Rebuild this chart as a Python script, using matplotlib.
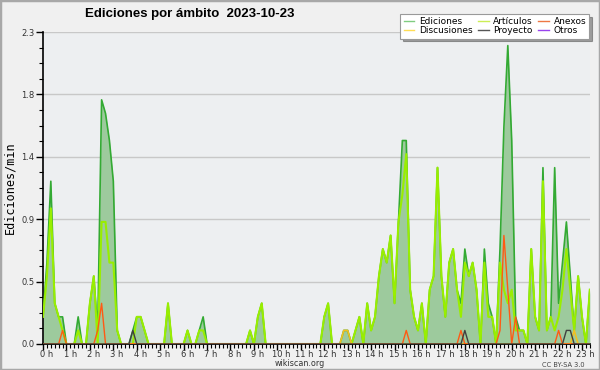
import matplotlib
matplotlib.use("Agg")
import matplotlib.pyplot as plt
import matplotlib.transforms as mtransforms
from matplotlib.lines import Line2D
from matplotlib.patches import Rectangle
from matplotlib.ticker import MultipleLocator, FixedLocator, FormatStrFormatter
import numpy as np

# edits per minute, one value per 10 minute slot starting at 0:00
ediciones = [
    0.2, 0.6, 1.2, 0.3, 0.2, 0.2, 0.0, 0.0, 0.0, 0.2, 0.0, 0.0,   # 0 h, 1 h
    0.3, 0.5, 0.1, 1.8, 1.7, 1.5, 1.2, 0.1, 0.0, 0.0, 0.0, 0.1,   # 2 h, 3 h
    0.2, 0.2, 0.1, 0.0, 0.0, 0.0, 0.0, 0.0, 0.3, 0.0, 0.0, 0.0,   # 4 h, 5 h
    0.0, 0.1, 0.0, 0.0, 0.1, 0.2, 0.0, 0.0, 0.0, 0.0, 0.0, 0.0,   # 6 h, 7 h
    0.0, 0.0, 0.0, 0.0, 0.0, 0.1, 0.0, 0.2, 0.3, 0.0, 0.0, 0.0,   # 8 h, 9 h
    0.0, 0.0, 0.0, 0.0, 0.0, 0.0, 0.0, 0.0, 0.0, 0.0, 0.0, 0.0,   # 10 h, 11 h
    0.2, 0.3, 0.0, 0.0, 0.0, 0.1, 0.1, 0.0, 0.1, 0.2, 0.0, 0.3,   # 12 h, 13 h
    0.1, 0.2, 0.5, 0.7, 0.6, 0.8, 0.3, 0.9, 1.5, 1.5, 0.4, 0.2,   # 14 h, 15 h
    0.1, 0.3, 0.0, 0.4, 0.5, 1.3, 0.5, 0.2, 0.6, 0.7, 0.4, 0.3,   # 16 h, 17 h
    0.7, 0.5, 0.6, 0.4, 0.0, 0.7, 0.3, 0.2, 0.0, 0.7, 1.6, 2.2,   # 18 h, 19 h
    1.5, 0.2, 0.1, 0.1, 0.0, 0.7, 0.2, 0.1, 1.3, 0.1, 0.2, 1.3,   # 20 h, 21 h
    0.3, 0.6, 0.9, 0.5, 0.1, 0.5, 0.2, 0.0, 0.4,                  # 22 h, 23 h
]
articulos = [
    0.2, 0.5, 1.0, 0.3, 0.2, 0.1, 0.0, 0.0, 0.0, 0.1, 0.0, 0.0,
    0.3, 0.5, 0.0, 0.9, 0.9, 0.6, 0.6, 0.1, 0.0, 0.0, 0.0, 0.0,
    0.2, 0.2, 0.1, 0.0, 0.0, 0.0, 0.0, 0.0, 0.3, 0.0, 0.0, 0.0,
    0.0, 0.1, 0.0, 0.0, 0.1, 0.1, 0.0, 0.0, 0.0, 0.0, 0.0, 0.0,
    0.0, 0.0, 0.0, 0.0, 0.0, 0.1, 0.0, 0.2, 0.3, 0.0, 0.0, 0.0,
    0.0, 0.0, 0.0, 0.0, 0.0, 0.0, 0.0, 0.0, 0.0, 0.0, 0.0, 0.0,
    0.2, 0.3, 0.0, 0.0, 0.0, 0.0, 0.0, 0.0, 0.1, 0.2, 0.0, 0.3,
    0.1, 0.2, 0.5, 0.7, 0.6, 0.8, 0.3, 0.9, 1.1, 1.4, 0.4, 0.2,
    0.1, 0.3, 0.0, 0.4, 0.5, 1.3, 0.5, 0.2, 0.6, 0.7, 0.4, 0.2,
    0.6, 0.5, 0.6, 0.4, 0.0, 0.6, 0.2, 0.2, 0.0, 0.6, 0.4, 0.3,
    0.4, 0.1, 0.1, 0.1, 0.0, 0.7, 0.2, 0.1, 1.2, 0.1, 0.2, 0.1,
    0.2, 0.4, 0.7, 0.4, 0.1, 0.5, 0.2, 0.0, 0.4,
]
n = len(ediciones)
anexos = [0.0] * n
for i, v in [(5, 0.1), (14, 0.1), (15, 0.3), (93, 0.1), (107, 0.1),
             (117, 0.1), (118, 0.8), (119, 0.4), (121, 0.2), (132, 0.1)]:
    anexos[i] = v
proyecto = [0.0] * n
for i, v in [(23, 0.1), (108, 0.1), (134, 0.1), (135, 0.1)]:
    proyecto[i] = v
discusiones = [0.0] * n
for i, v in [(77, 0.1), (78, 0.1), (136, 0.1)]:
    discusiones[i] = v
otros = [0.0] * n

hours = np.arange(n) / 6.0

plt.rcParams["font.family"] = "DejaVu Sans"

fig = plt.figure(figsize=(6.0, 3.7), dpi=100, facecolor="#f0f0f0")
ax = fig.add_axes([0.0717, 0.0703, 0.912, 0.8432])
ax.set_facecolor("#edeff1")

ax.plot(hours, otros, color="#9944ee", lw=1.0, zorder=2)
ax.fill_between(hours, ediciones, 0, color="#9dca9d", lw=0, zorder=2)
ax.plot(hours, ediciones, color="#33aa33", lw=1.2, zorder=3)
ax.plot(hours, articulos, color="#99ee00", lw=1.5, zorder=4)
ax.plot(hours, discusiones, color="#f0c020", lw=1.2, zorder=5)
ax.plot(hours, anexos, color="#ff5a14", lw=1.0, zorder=5)
ax.plot(hours, proyecto, color="#404040", lw=1.0, zorder=5)

ax.set_xlim(0, 23.35)
ax.set_ylim(0, 2.3)

yt = np.linspace(0, 2.3, 6)
ax.yaxis.set_major_locator(FixedLocator(yt))
ax.yaxis.set_minor_locator(MultipleLocator(2.3 / 20))
ax.yaxis.set_major_formatter(FormatStrFormatter("%.1f"))
ax.grid(axis="y", which="major", color="#c8c8c8", lw=1.0)
ax.set_axisbelow(True)

ax.xaxis.set_minor_locator(MultipleLocator(1 / 6))
ax.set_xticks(range(24))
ax.set_xticklabels([f"{h} h" for h in range(24)])

for s in ("top", "right"):
    ax.spines[s].set_visible(False)
for s in ("left", "bottom"):
    ax.spines[s].set_color("black")
    ax.spines[s].set_linewidth(1.2)

ax.tick_params(axis="both", which="major", direction="out", length=4,
               width=1, color="black", labelsize=6, labelcolor="#333333", pad=0)
ax.tick_params(axis="both", which="minor", direction="out", length=3,
               width=0.8, color="black")
ax.tick_params(axis="y", which="major", length=5, pad=1)

# hour labels: digits centred on the tick, " h" trailing to the right
for h, lab in enumerate(ax.get_xticklabels()):
    lab.set_horizontalalignment("left")
    shift = -2.1 * len(str(h)) / 72
    lab.set_transform(lab.get_transform()
                      + mtransforms.ScaledTranslation(shift, 0, fig.dpi_scale_trans))

ax.set_ylabel("Ediciones/min", family="DejaVu Sans Mono", fontsize=8.5, labelpad=4)

fig.text(0.142, 0.962, "Ediciones por ámbito  2023-10-23", family="Liberation Sans",
         fontweight="bold", fontsize=9.5, ha="left", va="center")
fig.text(0.5, 0.006, "wikiscan.org", fontsize=5.8, ha="center", va="bottom", color="#333333")
fig.text(0.975, 0.006, "CC BY-SA 3.0", fontsize=4.8, ha="right", va="bottom", color="#444444")

handles = [
    Line2D([], [], color="#80cc80", lw=1),
    Line2D([], [], color="#ffdd55", lw=1),
    Line2D([], [], color="#ccee55", lw=1),
    Line2D([], [], color="#555555", lw=1),
    Line2D([], [], color="#ee7744", lw=1),
    Line2D([], [], color="#9944ee", lw=1),
]
labels = ["Ediciones", "Discusiones", "Artículos", "Proyecto", "Anexos", "Otros"]
leg = fig.legend(handles, labels, ncol=3, loc="upper right",
                 bbox_to_anchor=(0.99, 0.975), fontsize=6.5, handlelength=1.2,
                 handletextpad=0.5, columnspacing=0.6, labelspacing=0.05,
                 borderpad=0.35, fancybox=False, shadow=True, framealpha=1)
leg.get_frame().set_edgecolor("#999999")
leg.get_frame().set_linewidth(0.8)

fig.patches.append(Rectangle((0, 0), 1, 1, transform=fig.transFigure, fill=False,
                             edgecolor="#a8a8a8", lw=2.5))

fig.savefig("out.png", dpi=100, facecolor=fig.get_facecolor())
